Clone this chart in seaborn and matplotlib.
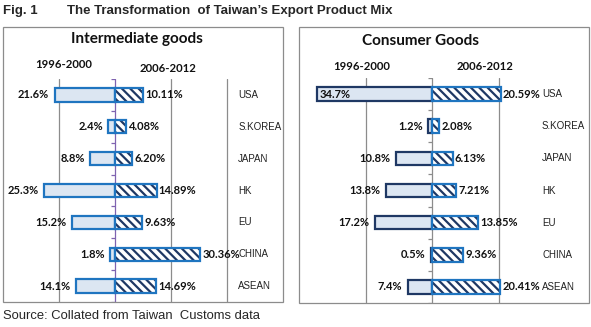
import numpy as np
import pandas as pd
import matplotlib
matplotlib.use("Agg")
import matplotlib.pyplot as plt
import seaborn as sns
from matplotlib.patches import Rectangle

countries = ["USA", "S.KOREA", "JAPAN", "HK", "EU", "CHINA", "ASEAN"]
inter_1996 = [21.6, 2.4, 8.8, 25.3, 15.2, 1.8, 14.1]
inter_2006 = [10.11, 4.08, 6.20, 14.89, 9.63, 30.36, 14.69]
cons_1996 = [34.7, 1.2, 10.8, 13.8, 17.2, 0.5, 7.4]
cons_2006 = [20.59, 2.08, 6.13, 7.21, 13.85, 9.36, 20.41]
period_labels = ["1996-2000", "2006-2012"]

sns.set_style("white")
plt.rcParams["hatch.linewidth"] = 1.6

W, H = 591, 327
fig = plt.figure(figsize=(W / 100, H / 100), dpi=100)

GRAY = "#8c8c8c"
FILL = "#dce6f2"
BLUE = "#1f75c0"
NAVY = "#1f3864"
BOLD = dict(family="Lato", weight="bold", color="#111111")
ARIAL = dict(family="Liberation Sans", color="#222222")


def fx(px):
    return px / W


def fy(py):
    return 1 - py / H


def box(x0, y0, x1, y1):
    fig.add_artist(Rectangle((fx(x0), fy(y1)), (x1 - x0) / W, (y1 - y0) / H,
                             transform=fig.transFigure, fill=False,
                             edgecolor=GRAY, lw=0.9))


def panel(ax, left, right, xlim, grid, center_color, left_edge, label_x, tick_len):
    df = pd.DataFrame({"country": countries,
                       "old": -np.array(left), "new": np.array(right)})
    sns.barplot(data=df, x="old", y="country", orient="h", width=0.42,
                color=FILL, saturation=1, edgecolor=left_edge, linewidth=1.6,
                ax=ax, zorder=3)
    sns.barplot(data=df, x="new", y="country", orient="h", width=0.42,
                color="white", saturation=1, edgecolor=NAVY, linewidth=0,
                hatch="\\\\\\\\", ax=ax, zorder=3)
    sns.barplot(data=df, x="new", y="country", orient="h", width=0.42,
                color=BLUE, fill=False, linewidth=1.6, ax=ax, zorder=4)
    ax.set_xlim(*xlim)
    ax.set_ylim(6.5, -0.5)
    ax.set_xticks(grid)
    ax.set_yticks([])
    ax.grid(axis="x", color=GRAY, lw=0.9)
    ax.grid(axis="y", visible=False)
    ax.set_axisbelow(True)
    ax.tick_params(length=0, labelbottom=False, labelleft=False)
    ax.set_xlabel("")
    ax.set_ylabel("")
    for s in ax.spines.values():
        s.set_visible(False)
    ax.axvline(0, color=center_color, lw=0.9, zorder=2)
    ax.hlines(np.arange(-0.5, 7, 1.0), -tick_len, 0, color=center_color, lw=0.9, zorder=2)
    for i, (a, b) in enumerate(zip(left, right)):
        if -a - 8 < xlim[0]:
            ax.annotate(f"{a:.1f}%", (-a, i), xytext=(2, 0), textcoords="offset points",
                        ha="left", va="center", fontsize=8, zorder=5, **BOLD)
        else:
            ax.annotate(f"{a:.1f}%", (-a, i), xytext=(-4, 0), textcoords="offset points",
                        ha="right", va="center", fontsize=8, **BOLD)
        ax.annotate(f"{b:.2f}%", (b, i), xytext=(1.5, 0), textcoords="offset points",
                    ha="left", va="center", fontsize=8, **BOLD)
        ax.text(label_x, i, countries[i], ha="left", va="center", fontsize=7, **ARIAL)


# Left panel: intermediate goods
box(3, 27, 283, 302)
ax1 = fig.add_axes([fx(3), fy(302), 280 / W, 223 / H])
panel(ax1, inter_1996, inter_2006, (-40, 60), [-20, 20, 40], "#7f63b0", BLUE, 44, 1.4)
fig.text(fx(137), fy(39), "Intermediate goods", ha="center", va="center", fontsize=11, **BOLD)
fig.text(fx(64), fy(65), period_labels[0], ha="center", va="center", fontsize=8.2, **BOLD)
fig.text(fx(168), fy(69), period_labels[1], ha="center", va="center", fontsize=8.2, **BOLD)

# Right panel: consumer goods
box(299, 27, 589, 303)
ax2 = fig.add_axes([fx(299), fy(303), 290 / W, 225 / H])
panel(ax2, cons_1996, cons_2006, (-40, 47.1), [-20, 20], GRAY, NAVY, 33, 1.2)
fig.text(fx(421), fy(41), "Consumer Goods", ha="center", va="center", fontsize=11, **BOLD)
fig.text(fx(362), fy(67), period_labels[0], ha="center", va="center", fontsize=8.2, **BOLD)
fig.text(fx(485), fy(67), period_labels[1], ha="center", va="center", fontsize=8.2, **BOLD)

# Header and footer
fig.text(fx(3), fy(11), "Fig. 1", ha="left", va="center", fontsize=9.5,
         family="Liberation Sans", weight="bold")
fig.text(fx(67), fy(11), "The Transformation  of Taiwan\u2019s Export Product Mix", ha="left",
         va="center", fontsize=9.5, family="Liberation Sans", weight="bold")
fig.text(fx(3), fy(316), "Source: Collated from Taiwan  Customs data", ha="left",
         va="center", fontsize=9.4, family="Liberation Sans")

fig.savefig("out.png", dpi=100)
